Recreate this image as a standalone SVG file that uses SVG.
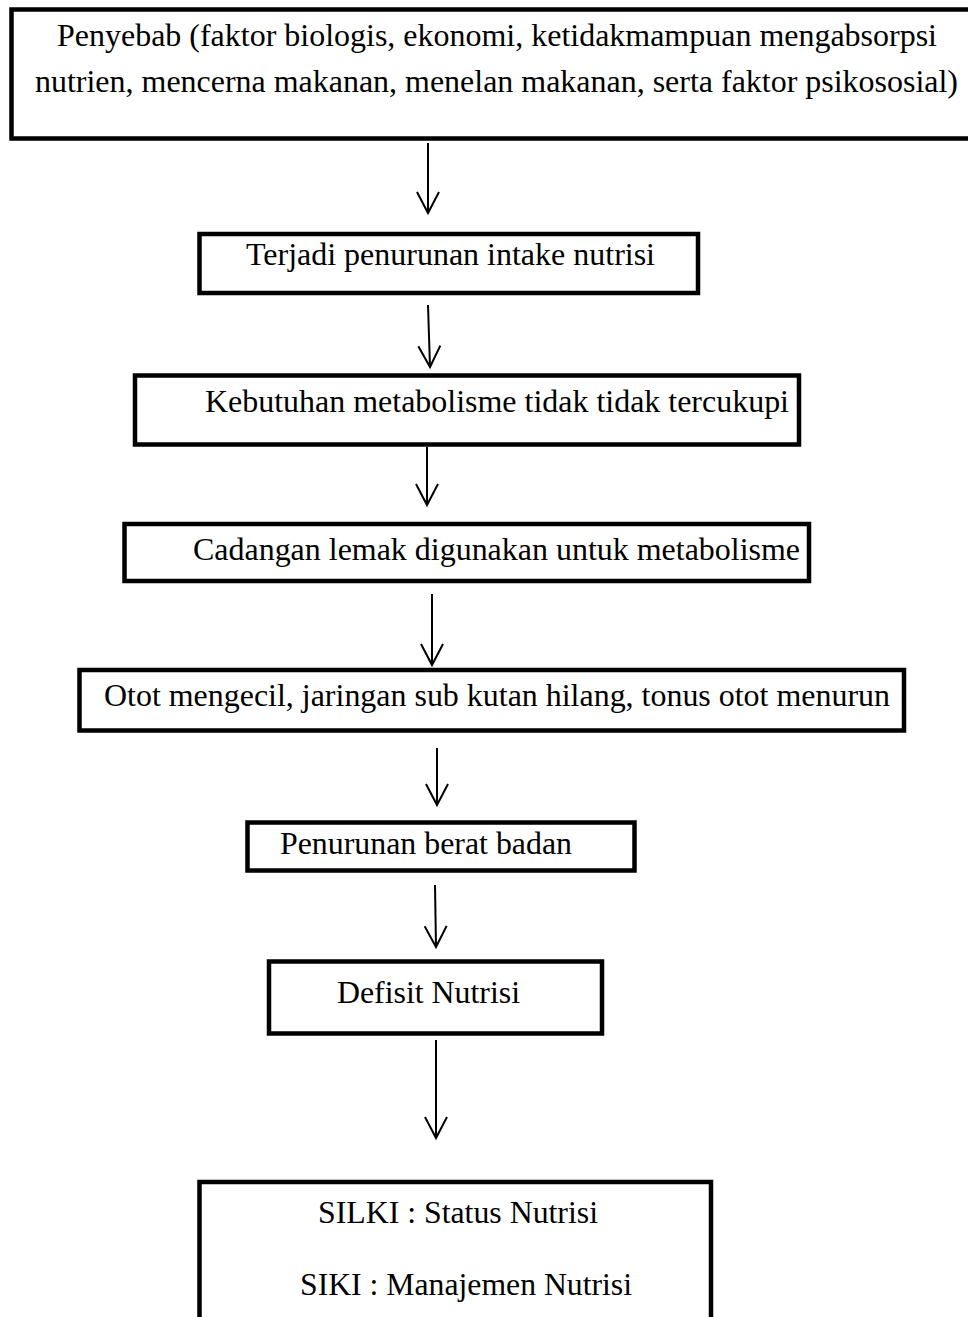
<svg xmlns="http://www.w3.org/2000/svg" width="968" height="1317" viewBox="0 0 968 1317">
<style>
.box{fill:#fff;stroke:#000;stroke-width:4.5}
.t{font-family:"Liberation Serif","Times New Roman",serif;font-size:32px;fill:#000}
.c{fill:none;stroke:#000;stroke-width:2}
</style>
<defs>
<marker id="arr" markerUnits="userSpaceOnUse" markerWidth="30" markerHeight="30" refX="0" refY="0" orient="auto" overflow="visible">
<path d="M-21,-11 L0,0 L-21,11" fill="none" stroke="#000" stroke-width="2"/>
</marker>
</defs>
<rect width="968" height="1317" fill="#fff"/>
<g id="n1">
<rect class="box" x="11.5" y="9.5" width="975" height="129"/>
<text class="t" x="57" y="46" textLength="880" lengthAdjust="spacingAndGlyphs">Penyebab (faktor biologis, ekonomi, ketidakmampuan mengabsorpsi</text>
<text class="t" x="35" y="92" textLength="923" lengthAdjust="spacingAndGlyphs">nutrien, mencerna makanan, menelan makanan, serta faktor psikososial)</text>
</g>
<g id="n2">
<rect class="box" x="199.5" y="234" width="498.5" height="59"/>
<text class="t" x="246" y="265" textLength="409" lengthAdjust="spacingAndGlyphs">Terjadi penurunan intake nutrisi</text>
</g>
<g id="n3">
<rect class="box" x="135" y="375.5" width="664" height="69"/>
<text class="t" x="205" y="412" textLength="584" lengthAdjust="spacingAndGlyphs">Kebutuhan metabolisme tidak tidak tercukupi</text>
</g>
<g id="n4">
<rect class="box" x="124.5" y="524" width="684.5" height="57"/>
<text class="t" x="193" y="560" textLength="607" lengthAdjust="spacingAndGlyphs">Cadangan lemak digunakan untuk metabolisme</text>
</g>
<g id="n5">
<rect class="box" x="79.5" y="670" width="824.5" height="60.5"/>
<text class="t" x="104" y="706" textLength="786" lengthAdjust="spacingAndGlyphs">Otot mengecil, jaringan sub kutan hilang, tonus otot menurun</text>
</g>
<g id="n6">
<rect class="box" x="247.5" y="822.5" width="387" height="48"/>
<text class="t" x="280" y="854" textLength="292" lengthAdjust="spacingAndGlyphs">Penurunan berat badan</text>
</g>
<g id="n7">
<rect class="box" x="269" y="961.5" width="333" height="72"/>
<text class="t" x="337" y="1003" textLength="183" lengthAdjust="spacingAndGlyphs">Defisit Nutrisi</text>
</g>
<g id="n8">
<rect class="box" x="199.5" y="1182" width="511.5" height="200"/>
<text class="t" x="318" y="1223" textLength="280" lengthAdjust="spacingAndGlyphs">SILKI : Status Nutrisi</text>
<text class="t" x="300" y="1295" textLength="332" lengthAdjust="spacingAndGlyphs">SIKI : Manajemen Nutrisi</text>
</g>
<g id="connectors">
<path class="c" d="M428,143 L428,213" marker-end="url(#arr)"/>
<path class="c" d="M428,305 L430,367" marker-end="url(#arr)"/>
<path class="c" d="M427,447 L427,505" marker-end="url(#arr)"/>
<path class="c" d="M432,594 L432,665" marker-end="url(#arr)"/>
<path class="c" d="M437,748 L437,805" marker-end="url(#arr)"/>
<path class="c" d="M435,885 L436,947" marker-end="url(#arr)"/>
<path class="c" d="M436,1040 L436,1138" marker-end="url(#arr)"/>
</g>
</svg>
